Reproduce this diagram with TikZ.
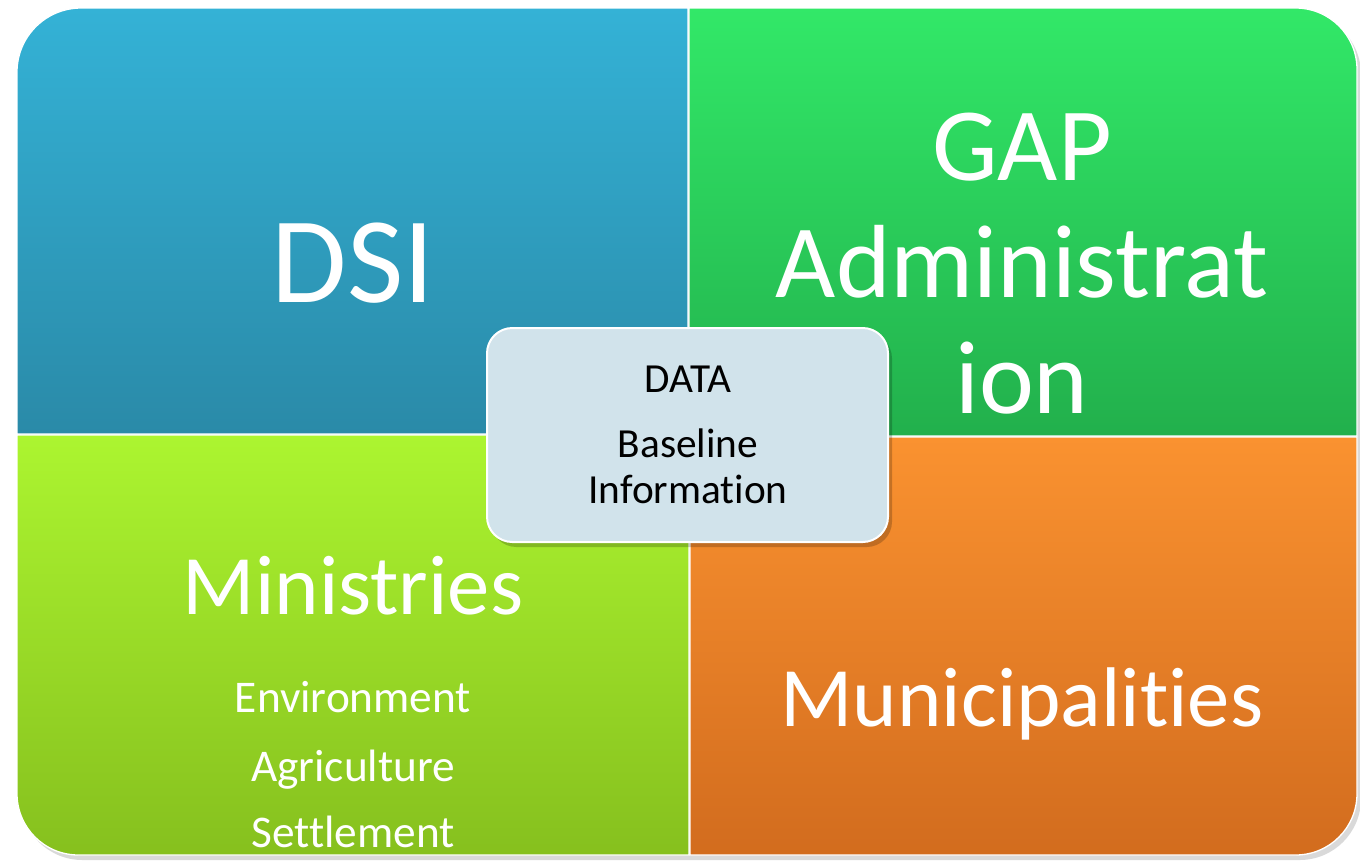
\documentclass[tikz,border=0pt]{standalone}
\usepackage{fontspec}
\setmainfont{Carlito}[Ligatures=NoCommon]

\definecolor{dsiTop}{RGB}{52,178,214}
\definecolor{dsiBot}{RGB}{42,138,168}
\definecolor{gapTop}{RGB}{50,232,104}
\definecolor{gapBot}{RGB}{34,176,76}
\definecolor{minTop}{RGB}{172,245,48}
\definecolor{minBot}{RGB}{134,192,30}
\definecolor{munTop}{RGB}{250,146,48}
\definecolor{munBot}{RGB}{210,108,30}
\definecolor{dataFill}{RGB}{209,227,235}

\tikzset{every picture/.style={line width=0.75pt}}
\tikzset{
  quad/.style={draw=white, line width=1pt},
  whitetext/.style={text=white, inner sep=0pt, anchor=base},
  datatext/.style={text=black, inner sep=0pt, anchor=base, font=\fontsize{31}{36}\selectfont},
  subtext/.style={whitetext, font=\fontsize{34}{40}\selectfont},
  bigtext/.style={whitetext, font=\fontsize{63.5}{75}\selectfont},
}

\begin{document}
\begin{tikzpicture}[x=0.75pt,y=0.75pt,yscale=-1,xscale=1]

		\useasboundingbox (0,0) rectangle (1360,861);

		% shadow
		\fill [black, opacity=0.15, rounded corners=46pt] (21,13) rectangle (1361,860);

		% quadrants
		\shade [quad, top color=dsiTop, bottom color=dsiBot] (17,434) [rounded corners=48pt] -- (17,8) [sharp corners] -- (688,8) -- (688,434) -- cycle;
		\shade [quad, top color=gapTop, bottom color=gapBot] (689,8) [rounded corners=46pt] -- (1357,8) [sharp corners] -- (1357,436) -- (689,436) -- cycle;
		\shade [quad, top color=minTop, bottom color=minBot] (17,435) -- (689,435) -- (689,855) [rounded corners=46pt] -- (17,855) [sharp corners] -- cycle;
		\shade [quad, top color=munTop, bottom color=munBot] (690,437) -- (1357,437) [rounded corners=46pt] -- (1357,855) [sharp corners] -- (690,855) -- cycle;

		% labels
		\node (dsi) [whitetext, font=\fontsize{92}{110}\selectfont] at (353,302) {DSI};
		\node (gap1) [whitetext, font=\fontsize{78}{88}\selectfont] at (1022,180) {GAP};
		\node (gap2) [whitetext, font=\fontsize{78}{88}\selectfont] at (1022,297) {Administrat};
		\node (gap3) [whitetext, font=\fontsize{78}{88}\selectfont] at (1022,413) {ion};
		\node (min) [bigtext] at (353,614) {Ministries};
		\node (env) [subtext] at (353,712) {Environment};
		\node (agr) [subtext] at (353,781) {Agriculture};
		\node (set) [subtext] at (353,847) {Settlement};
		\node (mun) [bigtext] at (1022,726) {Municipalities};

		% centre box
		\fill [black, opacity=0.2, rounded corners=19pt] (491,333) rectangle (892,547);
		\draw [white, line width=1.5pt, fill=dataFill, rounded corners=19pt] (487,328) rectangle (888,542);
		\node (data) [datatext] at (688,392) {DATA};
		\node (base) [datatext] at (688,457) {Baseline};
		\node (info) [datatext] at (688,503) {Information};

	\end{tikzpicture}
\end{document}
